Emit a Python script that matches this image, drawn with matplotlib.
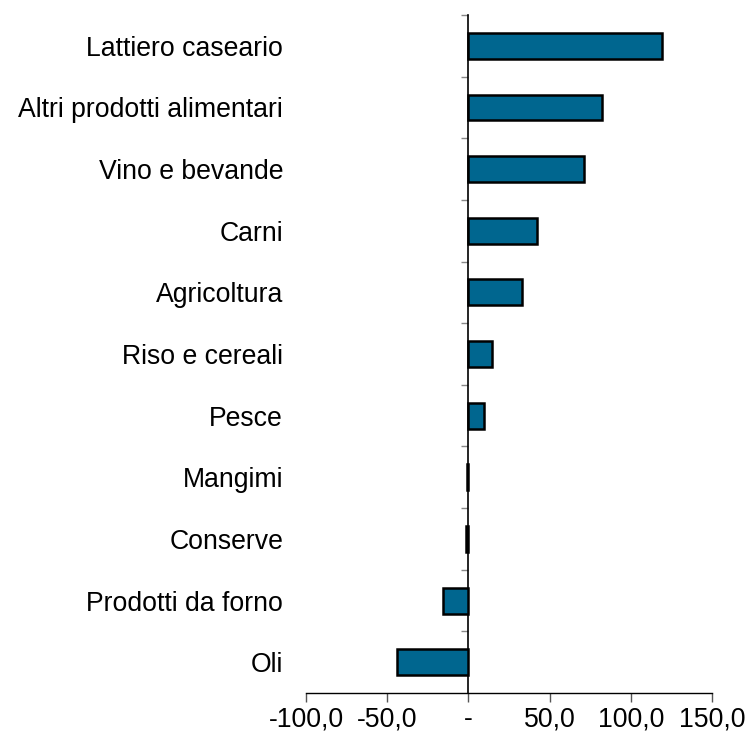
import matplotlib
matplotlib.use('Agg')
import matplotlib.pyplot as plt
import numpy as np

categories = ['Lattiero caseario', 'Altri prodotti alimentari', 'Vino e bevande',
              'Carni', 'Agricoltura', 'Riso e cereali', 'Pesce', 'Mangimi',
              'Conserve', 'Prodotti da forno', 'Oli']
values = [119.0, 82.5, 71.2, 42.5, 33.0, 14.8, 9.6, -0.8, -1.2, -15.5, -43.8]
xticks = [-100, -50, 0, 50, 100, 150]
xticklabels = ['-100,0', '-50,0', '-', '50,0', '100,0', '150,0']

plt.rcParams['font.family'] = ['Liberation Sans', 'DejaVu Sans']

fig = plt.figure(figsize=(7.49, 7.39), dpi=100)
ax = fig.add_axes([0.4085, 0.0622, 0.9506 - 0.4085, 0.9797 - 0.0622])

pos = np.arange(len(categories))
ax.barh(pos, values, height=0.42, color='#00668f', edgecolor='black', linewidth=1.8)

ax.set_xlim(-100, 150)
ax.set_ylim(len(categories) - 0.5, -0.5)

ax.set_yticks(pos)
ax.set_yticklabels(categories, fontsize=19.2)
ax.tick_params(axis='y', length=0, pad=16.5)

ax.set_xticks(xticks)
ax.set_xticklabels(xticklabels, fontsize=19.2)
ax.tick_params(axis='x', direction='out', length=6.5, width=1, color='#555555', pad=3)

for s in ['left', 'right', 'top']:
    ax.spines[s].set_visible(False)
ax.spines['bottom'].set_linewidth(1)

# vertical axis line at zero with ticks at category boundaries
sec = ax.secondary_yaxis(0.4)
sec.set_yticks(np.arange(len(categories)) - 0.5)
sec.set_yticklabels([])
sec.tick_params(axis='y', direction='out', length=5, width=1, color='#888888')
sec.spines['left'].set_linewidth(1.2)

fig.savefig('out.png', dpi=100)
